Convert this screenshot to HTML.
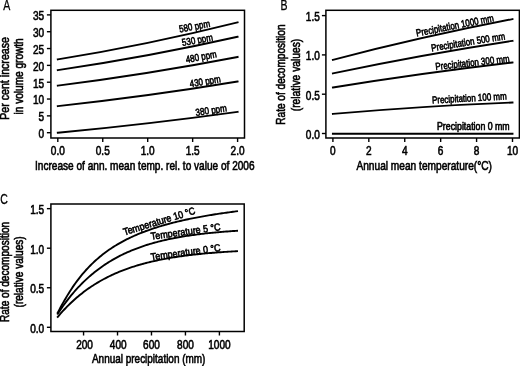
<!DOCTYPE html>
<html><head><meta charset="utf-8"><title>Figure</title>
<style>
html,body{margin:0;padding:0;background:#fff;}
svg{display:block;filter:grayscale(1);}
text{font-family:"Liberation Sans", sans-serif;fill:#000;stroke:#000;stroke-width:0.6px;}
</style></head><body>
<svg width="520" height="366" viewBox="0 0 520 366">
<rect width="520" height="366" fill="#fff"/>
<rect x="50.90" y="10.30" width="193.60" height="127.70" fill="none" stroke="#000" stroke-width="1.5"/>
<line x1="46.90" y1="132.70" x2="50.90" y2="132.70" stroke="#000" stroke-width="1.4"/>
<text transform="translate(44.20,138.00) scale(0.82,1)" text-anchor="end" font-size="12.3" >0</text>
<line x1="46.90" y1="115.87" x2="50.90" y2="115.87" stroke="#000" stroke-width="1.4"/>
<text transform="translate(44.20,121.17) scale(0.82,1)" text-anchor="end" font-size="12.3" >5</text>
<line x1="46.90" y1="99.04" x2="50.90" y2="99.04" stroke="#000" stroke-width="1.4"/>
<text transform="translate(44.20,104.34) scale(0.82,1)" text-anchor="end" font-size="12.3" >10</text>
<line x1="46.90" y1="82.21" x2="50.90" y2="82.21" stroke="#000" stroke-width="1.4"/>
<text transform="translate(44.20,87.51) scale(0.82,1)" text-anchor="end" font-size="12.3" >15</text>
<line x1="46.90" y1="65.38" x2="50.90" y2="65.38" stroke="#000" stroke-width="1.4"/>
<text transform="translate(44.20,70.68) scale(0.82,1)" text-anchor="end" font-size="12.3" >20</text>
<line x1="46.90" y1="48.55" x2="50.90" y2="48.55" stroke="#000" stroke-width="1.4"/>
<text transform="translate(44.20,53.85) scale(0.82,1)" text-anchor="end" font-size="12.3" >25</text>
<line x1="46.90" y1="31.72" x2="50.90" y2="31.72" stroke="#000" stroke-width="1.4"/>
<text transform="translate(44.20,37.02) scale(0.82,1)" text-anchor="end" font-size="12.3" >30</text>
<line x1="46.90" y1="14.89" x2="50.90" y2="14.89" stroke="#000" stroke-width="1.4"/>
<text transform="translate(44.20,20.19) scale(0.82,1)" text-anchor="end" font-size="12.3" >35</text>
<line x1="57.80" y1="138.00" x2="57.80" y2="142.00" stroke="#000" stroke-width="1.4"/>
<text transform="translate(57.80,154.80) scale(0.82,1)" text-anchor="middle" font-size="12.3" >0.0</text>
<line x1="102.75" y1="138.00" x2="102.75" y2="142.00" stroke="#000" stroke-width="1.4"/>
<text transform="translate(102.75,154.80) scale(0.82,1)" text-anchor="middle" font-size="12.3" >0.5</text>
<line x1="147.70" y1="138.00" x2="147.70" y2="142.00" stroke="#000" stroke-width="1.4"/>
<text transform="translate(147.70,154.80) scale(0.82,1)" text-anchor="middle" font-size="12.3" >1.0</text>
<line x1="192.65" y1="138.00" x2="192.65" y2="142.00" stroke="#000" stroke-width="1.4"/>
<text transform="translate(192.65,154.80) scale(0.82,1)" text-anchor="middle" font-size="12.3" >1.5</text>
<line x1="237.60" y1="138.00" x2="237.60" y2="142.00" stroke="#000" stroke-width="1.4"/>
<text transform="translate(237.60,154.80) scale(0.82,1)" text-anchor="middle" font-size="12.3" >2.0</text>
<text transform="translate(144.80,170.00) scale(0.82,1)" text-anchor="middle" font-size="12.3" >Increase of ann. mean temp. rel. to value of 2006</text>
<text transform="translate(9.40,78.40) rotate(-90) scale(0.865,1)" text-anchor="middle" font-size="12.3" >Per cent increase</text>
<text transform="translate(22.60,76.40) rotate(-90) scale(0.82,1)" text-anchor="middle" font-size="12.3" >in volume growth</text>
<text transform="translate(6.70,10.10) scale(0.68,1)" text-anchor="middle" font-size="15.5" style="stroke-width:0.3px">A</text>
<path d="M57.80,59.32 Q147.70,44.81 237.60,22.30" fill="none" stroke="#000" stroke-width="1.9" stroke-linecap="square"/>
<text transform="translate(179.80,32.50) rotate(-10.6) scale(0.7964,1)" text-anchor="start" font-size="10.1" >580 ppm</text>
<path d="M57.80,70.09 Q147.70,57.03 237.60,36.77" fill="none" stroke="#000" stroke-width="1.9" stroke-linecap="square"/>
<text transform="translate(182.60,46.10) rotate(-10.5) scale(0.7964,1)" text-anchor="start" font-size="10.1" >530 ppm</text>
<path d="M57.80,85.58 Q147.70,74.27 237.60,56.97" fill="none" stroke="#000" stroke-width="1.9" stroke-linecap="square"/>
<text transform="translate(186.40,63.00) rotate(-10.8) scale(0.7964,1)" text-anchor="start" font-size="10.1" >480 ppm</text>
<path d="M57.80,106.11 Q147.70,96.42 237.60,81.54" fill="none" stroke="#000" stroke-width="1.9" stroke-linecap="square"/>
<text transform="translate(190.30,87.20) rotate(-9.4) scale(0.7964,1)" text-anchor="start" font-size="10.1" >430 ppm</text>
<path d="M57.80,132.70 Q147.70,124.27 237.60,111.83" fill="none" stroke="#000" stroke-width="1.9" stroke-linecap="square"/>
<text transform="translate(196.10,115.90) rotate(-8.3) scale(0.8015,1)" text-anchor="start" font-size="10.1" >380 ppm</text>
<rect x="325.90" y="10.30" width="193.50" height="127.70" fill="none" stroke="#000" stroke-width="1.5"/>
<line x1="321.90" y1="133.50" x2="325.90" y2="133.50" stroke="#000" stroke-width="1.4"/>
<text transform="translate(319.80,138.80) scale(0.82,1)" text-anchor="end" font-size="12.3" >0.0</text>
<line x1="321.90" y1="94.20" x2="325.90" y2="94.20" stroke="#000" stroke-width="1.4"/>
<text transform="translate(319.80,99.50) scale(0.82,1)" text-anchor="end" font-size="12.3" >0.5</text>
<line x1="321.90" y1="54.90" x2="325.90" y2="54.90" stroke="#000" stroke-width="1.4"/>
<text transform="translate(319.80,60.20) scale(0.82,1)" text-anchor="end" font-size="12.3" >1.0</text>
<line x1="321.90" y1="15.60" x2="325.90" y2="15.60" stroke="#000" stroke-width="1.4"/>
<text transform="translate(319.80,20.90) scale(0.82,1)" text-anchor="end" font-size="12.3" >1.5</text>
<line x1="332.90" y1="138.00" x2="332.90" y2="142.00" stroke="#000" stroke-width="1.4"/>
<text transform="translate(332.90,154.80) scale(0.82,1)" text-anchor="middle" font-size="12.3" >0</text>
<line x1="368.82" y1="138.00" x2="368.82" y2="142.00" stroke="#000" stroke-width="1.4"/>
<text transform="translate(368.82,154.80) scale(0.82,1)" text-anchor="middle" font-size="12.3" >2</text>
<line x1="404.74" y1="138.00" x2="404.74" y2="142.00" stroke="#000" stroke-width="1.4"/>
<text transform="translate(404.74,154.80) scale(0.82,1)" text-anchor="middle" font-size="12.3" >4</text>
<line x1="440.66" y1="138.00" x2="440.66" y2="142.00" stroke="#000" stroke-width="1.4"/>
<text transform="translate(440.66,154.80) scale(0.82,1)" text-anchor="middle" font-size="12.3" >6</text>
<line x1="476.58" y1="138.00" x2="476.58" y2="142.00" stroke="#000" stroke-width="1.4"/>
<text transform="translate(476.58,154.80) scale(0.82,1)" text-anchor="middle" font-size="12.3" >8</text>
<line x1="512.50" y1="138.00" x2="512.50" y2="142.00" stroke="#000" stroke-width="1.4"/>
<text transform="translate(512.50,154.80) scale(0.82,1)" text-anchor="middle" font-size="12.3" >10</text>
<text transform="translate(424.20,170.00) scale(0.827,1)" text-anchor="middle" font-size="12.3" >Annual mean temperature(°C)</text>
<text transform="translate(285.30,74.60) rotate(-90) scale(0.82,1)" text-anchor="middle" font-size="12.3" >Rate of decomposition</text>
<text transform="translate(299.50,75.00) rotate(-90) scale(0.835,1)" text-anchor="middle" font-size="12.3" >(relative values)</text>
<text transform="translate(284.00,10.10) scale(0.68,1)" text-anchor="middle" font-size="15.5" style="stroke-width:0.3px">B</text>
<path d="M332.90,59.80 Q422.70,36.45 512.50,19.10" fill="none" stroke="#000" stroke-width="1.9" stroke-linecap="square"/>
<text transform="translate(416.80,36.60) rotate(-11.3) scale(0.7852,1)" text-anchor="start" font-size="10.1" >Precipitation 1000 mm</text>
<path d="M332.90,73.40 Q422.70,54.55 512.50,40.90" fill="none" stroke="#000" stroke-width="1.9" stroke-linecap="square"/>
<text transform="translate(431.80,51.40) rotate(-9.3) scale(0.7885,1)" text-anchor="start" font-size="10.1" >Precipitation 500 mm</text>
<path d="M332.90,87.50 Q422.70,73.00 512.50,62.50" fill="none" stroke="#000" stroke-width="1.9" stroke-linecap="square"/>
<text transform="translate(435.80,70.00) rotate(-6.2) scale(0.7853,1)" text-anchor="start" font-size="10.1" >Precipitation 300 mm</text>
<path d="M332.90,113.90 Q422.70,106.00 512.50,102.50" fill="none" stroke="#000" stroke-width="1.9" stroke-linecap="square"/>
<text transform="translate(432.20,103.60) rotate(-3.2) scale(0.7885,1)" text-anchor="start" font-size="10.1" >Precipitation 100 mm</text>
<path d="M332.90,133.80 Q422.70,133.80 512.50,133.80" fill="none" stroke="#000" stroke-width="1.9" stroke-linecap="square"/>
<text transform="translate(437.00,130.30) scale(0.8705,1)" text-anchor="start" font-size="10.1" >Precipitation 0 mm</text>
<rect x="50.90" y="204.00" width="193.30" height="127.50" fill="none" stroke="#000" stroke-width="1.5"/>
<line x1="46.90" y1="327.30" x2="50.90" y2="327.30" stroke="#000" stroke-width="1.4"/>
<text transform="translate(44.20,332.60) scale(0.82,1)" text-anchor="end" font-size="12.3" >0.0</text>
<line x1="46.90" y1="287.75" x2="50.90" y2="287.75" stroke="#000" stroke-width="1.4"/>
<text transform="translate(44.20,293.05) scale(0.82,1)" text-anchor="end" font-size="12.3" >0.5</text>
<line x1="46.90" y1="248.20" x2="50.90" y2="248.20" stroke="#000" stroke-width="1.4"/>
<text transform="translate(44.20,253.50) scale(0.82,1)" text-anchor="end" font-size="12.3" >1.0</text>
<line x1="46.90" y1="208.65" x2="50.90" y2="208.65" stroke="#000" stroke-width="1.4"/>
<text transform="translate(44.20,213.95) scale(0.82,1)" text-anchor="end" font-size="12.3" >1.5</text>
<line x1="83.56" y1="331.50" x2="83.56" y2="335.50" stroke="#000" stroke-width="1.4"/>
<text transform="translate(84.56,348.70) scale(0.82,1)" text-anchor="middle" font-size="12.3" >200</text>
<line x1="117.52" y1="331.50" x2="117.52" y2="335.50" stroke="#000" stroke-width="1.4"/>
<text transform="translate(118.22,348.70) scale(0.82,1)" text-anchor="middle" font-size="12.3" >400</text>
<line x1="151.48" y1="331.50" x2="151.48" y2="335.50" stroke="#000" stroke-width="1.4"/>
<text transform="translate(151.48,348.70) scale(0.82,1)" text-anchor="middle" font-size="12.3" >600</text>
<line x1="185.44" y1="331.50" x2="185.44" y2="335.50" stroke="#000" stroke-width="1.4"/>
<text transform="translate(185.44,348.70) scale(0.82,1)" text-anchor="middle" font-size="12.3" >800</text>
<line x1="219.40" y1="331.50" x2="219.40" y2="335.50" stroke="#000" stroke-width="1.4"/>
<text transform="translate(219.40,348.70) scale(0.82,1)" text-anchor="middle" font-size="12.3" >1000</text>
<text transform="translate(148.70,363.00) scale(0.81,1)" text-anchor="middle" font-size="12.3" >Annual precipitation (mm)</text>
<text transform="translate(9.40,271.90) rotate(-90) scale(0.82,1)" text-anchor="middle" font-size="12.3" >Rate of decomposition</text>
<text transform="translate(22.60,271.90) rotate(-90) scale(0.82,1)" text-anchor="middle" font-size="12.3" >(relative values)</text>
<text transform="translate(4.00,204.20) scale(0.68,1)" text-anchor="middle" font-size="15.5" style="stroke-width:0.3px">C</text>
<polyline points="57.75,312.69 59.11,310.11 60.47,307.57 61.83,305.07 63.18,302.62 64.54,300.23 65.90,297.90 67.26,295.62 68.62,293.41 69.98,291.25 71.33,289.16 72.69,287.13 74.05,285.15 75.41,283.23 76.77,281.37 78.13,279.56 79.48,277.80 80.84,276.10 82.20,274.44 83.56,272.83 84.92,271.27 86.28,269.76 87.64,268.28 88.99,266.86 90.35,265.47 91.71,264.12 93.07,262.81 94.43,261.53 95.79,260.29 97.14,259.09 98.50,257.91 99.86,256.77 101.22,255.66 102.58,254.58 103.94,253.53 105.29,252.51 106.65,251.51 108.01,250.54 109.37,249.59 110.73,248.67 112.09,247.77 113.44,246.90 114.80,246.04 116.16,245.21 117.52,244.39 118.88,243.60 120.24,242.82 121.60,242.07 122.95,241.33 124.31,240.61 125.67,239.90 127.03,239.21 128.39,238.54 129.75,237.88 131.10,237.24 132.46,236.61 133.82,235.99 135.18,235.39 136.54,234.80 137.90,234.23 139.25,233.66 140.61,233.11 141.97,232.57 143.33,232.04 144.69,231.52 146.05,231.01 147.40,230.52 148.76,230.03 150.12,229.55 151.48,229.08 152.84,228.62 154.20,228.17 155.56,227.73 156.91,227.30 158.27,226.87 159.63,226.45 160.99,226.05 162.35,225.64 163.71,225.25 165.06,224.86 166.42,224.48 167.78,224.11 169.14,223.74 170.50,223.38 171.86,223.03 173.21,222.68 174.57,222.34 175.93,222.00 177.29,221.67 178.65,221.35 180.01,221.03 181.36,220.71 182.72,220.41 184.08,220.10 185.44,219.80 186.80,219.51 188.16,219.22 189.52,218.94 190.87,218.66 192.23,218.38 193.59,218.11 194.95,217.85 196.31,217.58 197.67,217.32 199.02,217.07 200.38,216.82 201.74,216.57 203.10,216.33 204.46,216.09 205.82,215.85 207.17,215.62 208.53,215.39 209.89,215.17 211.25,214.94 212.61,214.72 213.97,214.51 215.32,214.30 216.68,214.09 218.04,213.88 219.40,213.67 220.76,213.47 222.12,213.27 223.48,213.08 224.83,212.89 226.19,212.69 227.55,212.51 228.91,212.32 230.27,212.14 231.63,211.96 232.98,211.78 234.34,211.60 235.70,211.43 237.06,211.26" fill="none" stroke="#000" stroke-width="1.9" stroke-linejoin="round" stroke-linecap="square"/>
<text transform="translate(124.40,235.40) rotate(-17.0) scale(0.8813,1)" text-anchor="start" font-size="10.1" >Temperature 10 °C</text>
<polyline points="57.75,313.79 59.11,311.73 60.47,309.71 61.83,307.74 63.18,305.82 64.54,303.94 65.90,302.11 67.26,300.32 68.62,298.58 69.98,296.87 71.33,295.21 72.69,293.59 74.05,292.00 75.41,290.45 76.77,288.94 78.13,287.47 79.48,286.03 80.84,284.63 82.20,283.26 83.56,281.92 84.92,280.61 86.28,279.34 87.64,278.09 88.99,276.88 90.35,275.69 91.71,274.54 93.07,273.41 94.43,272.30 95.79,271.23 97.14,270.18 98.50,269.15 99.86,268.15 101.22,267.17 102.58,266.22 103.94,265.29 105.29,264.38 106.65,263.49 108.01,262.62 109.37,261.78 110.73,260.95 112.09,260.15 113.44,259.36 114.80,258.59 116.16,257.85 117.52,257.11 118.88,256.40 120.24,255.70 121.60,255.02 122.95,254.36 124.31,253.71 125.67,253.08 127.03,252.46 128.39,251.86 129.75,251.27 131.10,250.70 132.46,250.13 133.82,249.59 135.18,249.05 136.54,248.53 137.90,248.02 139.25,247.53 140.61,247.04 141.97,246.57 143.33,246.10 144.69,245.65 146.05,245.21 147.40,244.78 148.76,244.36 150.12,243.95 151.48,243.55 152.84,243.16 154.20,242.78 155.56,242.41 156.91,242.05 158.27,241.69 159.63,241.35 160.99,241.01 162.35,240.68 163.71,240.36 165.06,240.05 166.42,239.74 167.78,239.44 169.14,239.15 170.50,238.86 171.86,238.59 173.21,238.31 174.57,238.05 175.93,237.79 177.29,237.54 178.65,237.29 180.01,237.05 181.36,236.81 182.72,236.59 184.08,236.36 185.44,236.14 186.80,235.93 188.16,235.72 189.52,235.52 190.87,235.32 192.23,235.13 193.59,234.94 194.95,234.75 196.31,234.57 197.67,234.40 199.02,234.23 200.38,234.06 201.74,233.89 203.10,233.73 204.46,233.58 205.82,233.43 207.17,233.28 208.53,233.13 209.89,232.99 211.25,232.85 212.61,232.72 213.97,232.59 215.32,232.46 216.68,232.33 218.04,232.21 219.40,232.09 220.76,231.97 222.12,231.86 223.48,231.75 224.83,231.64 226.19,231.54 227.55,231.43 228.91,231.33 230.27,231.23 231.63,231.14 232.98,231.04 234.34,230.95 235.70,230.86 237.06,230.77" fill="none" stroke="#000" stroke-width="1.9" stroke-linejoin="round" stroke-linecap="square"/>
<text transform="translate(151.30,239.80) rotate(-7.9) scale(0.887,1)" text-anchor="start" font-size="10.1" >Temperature 5 °C</text>
<polyline points="57.75,316.88 59.11,315.28 60.47,313.72 61.83,312.19 63.18,310.70 64.54,309.25 65.90,307.83 67.26,306.44 68.62,305.08 69.98,303.76 71.33,302.47 72.69,301.20 74.05,299.97 75.41,298.76 76.77,297.59 78.13,296.44 79.48,295.31 80.84,294.21 82.20,293.14 83.56,292.10 84.92,291.07 86.28,290.08 87.64,289.10 88.99,288.15 90.35,287.22 91.71,286.31 93.07,285.42 94.43,284.55 95.79,283.71 97.14,282.88 98.50,282.07 99.86,281.28 101.22,280.51 102.58,279.76 103.94,279.02 105.29,278.30 106.65,277.60 108.01,276.92 109.37,276.25 110.73,275.59 112.09,274.95 113.44,274.33 114.80,273.72 116.16,273.12 117.52,272.54 118.88,271.98 120.24,271.42 121.60,270.88 122.95,270.35 124.31,269.83 125.67,269.33 127.03,268.83 128.39,268.35 129.75,267.88 131.10,267.42 132.46,266.97 133.82,266.54 135.18,266.11 136.54,265.69 137.90,265.28 139.25,264.88 140.61,264.49 141.97,264.11 143.33,263.74 144.69,263.38 146.05,263.02 147.40,262.67 148.76,262.34 150.12,262.01 151.48,261.68 152.84,261.37 154.20,261.06 155.56,260.76 156.91,260.46 158.27,260.18 159.63,259.90 160.99,259.62 162.35,259.35 163.71,259.09 165.06,258.84 166.42,258.59 167.78,258.35 169.14,258.11 170.50,257.88 171.86,257.65 173.21,257.43 174.57,257.21 175.93,257.00 177.29,256.79 178.65,256.59 180.01,256.39 181.36,256.20 182.72,256.01 184.08,255.83 185.44,255.65 186.80,255.47 188.16,255.30 189.52,255.14 190.87,254.97 192.23,254.81 193.59,254.66 194.95,254.51 196.31,254.36 197.67,254.21 199.02,254.07 200.38,253.93 201.74,253.80 203.10,253.66 204.46,253.54 205.82,253.41 207.17,253.29 208.53,253.17 209.89,253.05 211.25,252.93 212.61,252.82 213.97,252.71 215.32,252.61 216.68,252.50 218.04,252.40 219.40,252.30 220.76,252.20 222.12,252.11 223.48,252.01 224.83,251.92 226.19,251.83 227.55,251.75 228.91,251.66 230.27,251.58 231.63,251.50 232.98,251.42 234.34,251.34 235.70,251.27 237.06,251.20" fill="none" stroke="#000" stroke-width="1.9" stroke-linejoin="round" stroke-linecap="square"/>
<text transform="translate(151.30,260.40) rotate(-7.9) scale(0.887,1)" text-anchor="start" font-size="10.1" >Temperature 0 °C</text>
</svg>
</body></html>
